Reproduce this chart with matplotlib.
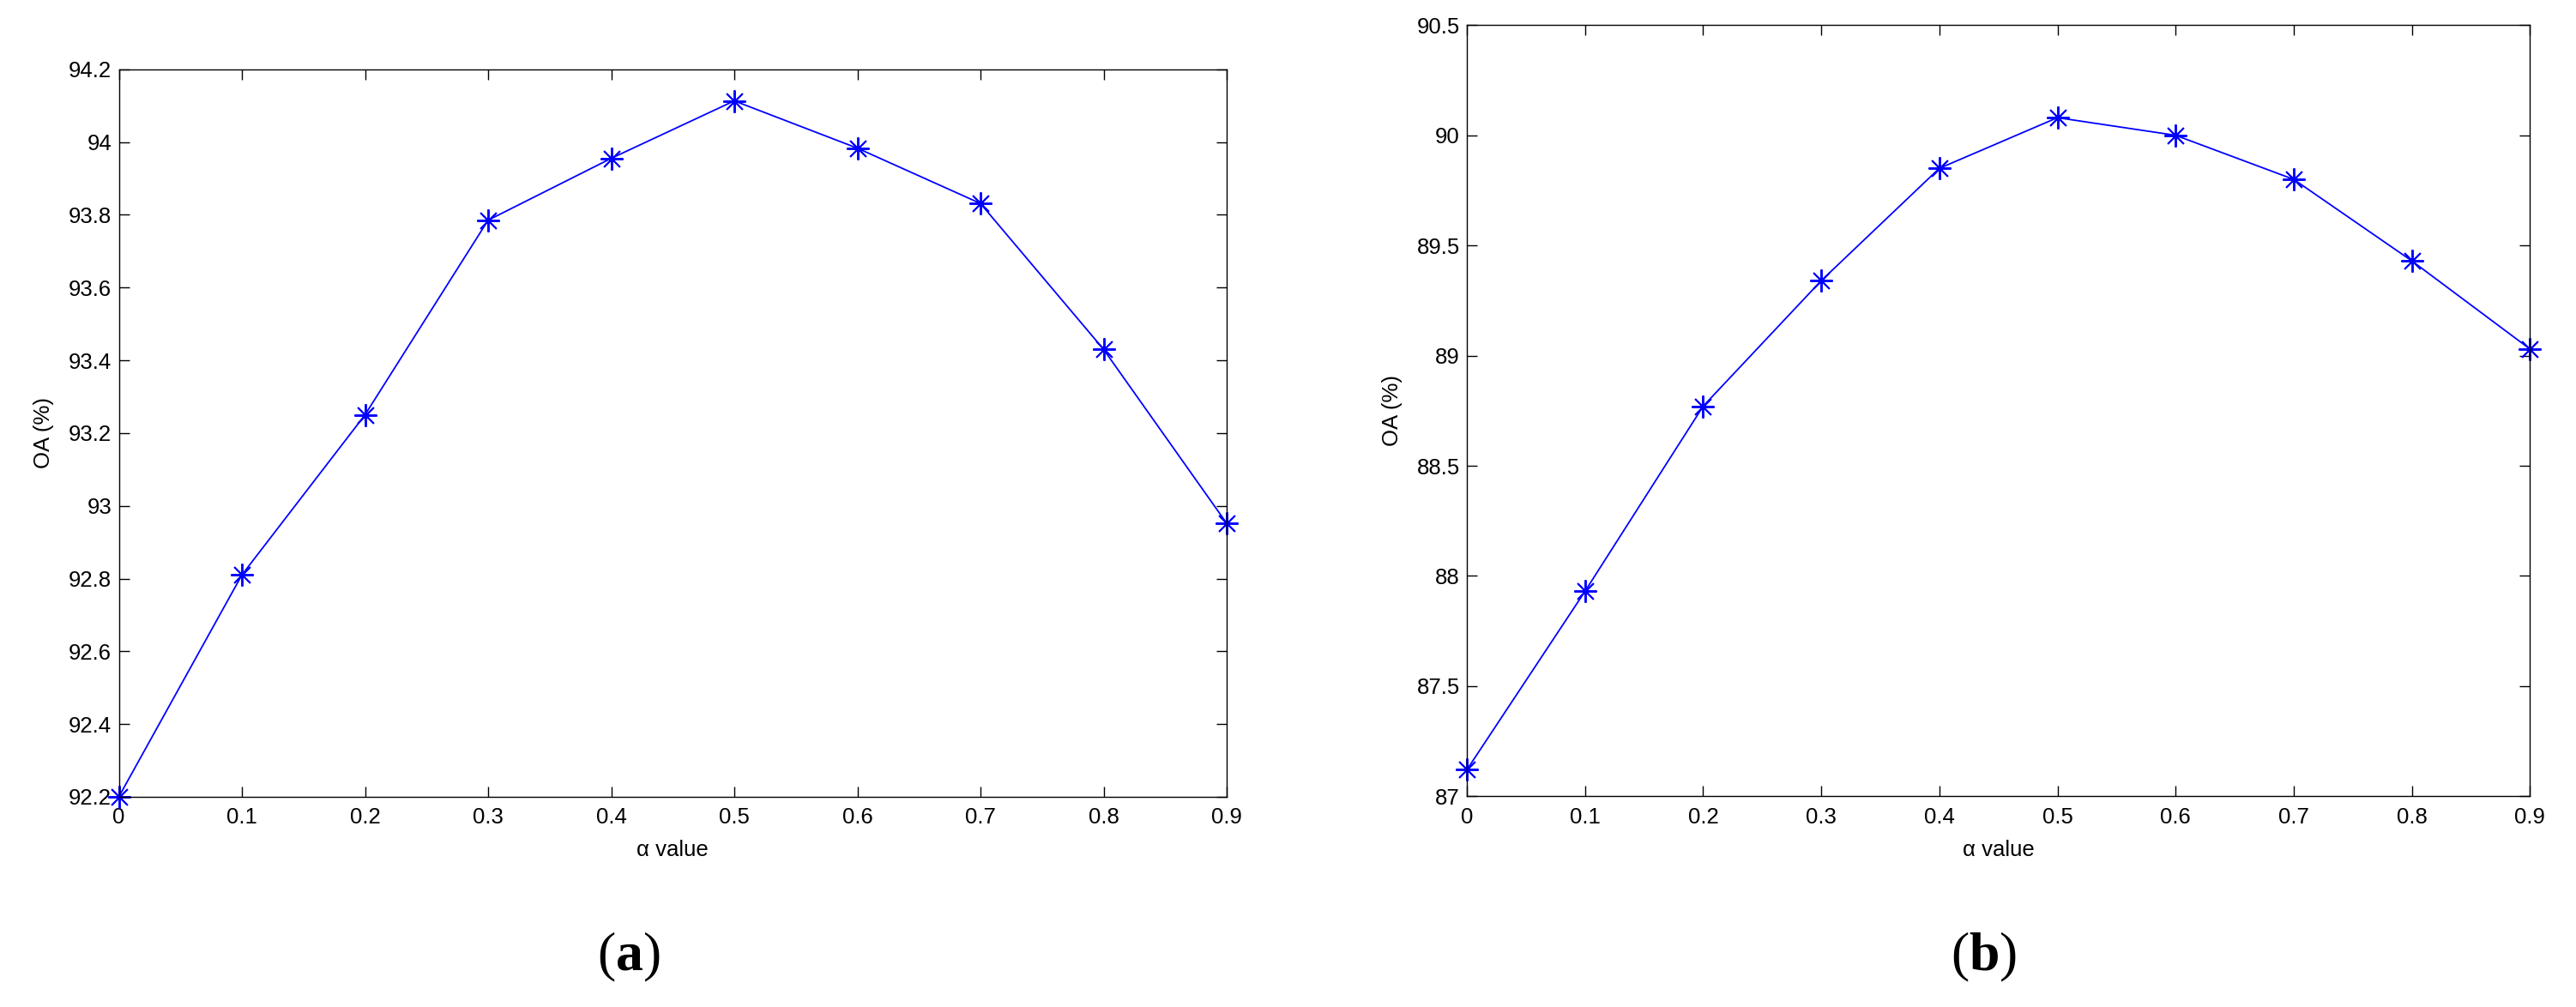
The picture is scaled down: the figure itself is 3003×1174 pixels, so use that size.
import numpy as np
import matplotlib
matplotlib.use("Agg")
import matplotlib.pyplot as plt
from matplotlib.ticker import FuncFormatter

plt.rcParams['font.family'] = ['Liberation Sans', 'DejaVu Sans']
plt.rcParams['mathtext.fontset'] = 'custom'
plt.rcParams['mathtext.rm'] = 'Liberation Serif'
plt.rcParams['mathtext.bf'] = 'Liberation Serif:bold'

alpha = [0, 0.1, 0.2, 0.3, 0.4, 0.5, 0.6, 0.7, 0.8, 0.9]
oa_a = [92.20, 92.81, 93.25, 93.785, 93.955, 94.113, 93.983, 93.831, 93.43, 92.952]
oa_b = [87.12, 87.93, 88.77, 89.34, 89.85, 90.08, 90.00, 89.80, 89.43, 89.03]

yticks_a = [92.2, 92.4, 92.6, 92.8, 93.0, 93.2, 93.4, 93.6, 93.8, 94.0, 94.2]
yticks_b = [87, 87.5, 88, 88.5, 89, 89.5, 90, 90.5]
xticks = alpha
panel_labels = ["a", "b"]

W, H = 3003, 1174
fig = plt.figure(figsize=(W / 100, H / 100), dpi=100)

# axes boxes in pixels: left, top, right, bottom
boxes = [(138.5, 80.7, 1430, 929), (1710, 29.3, 2949.3, 928.3)]
label_x = [733, 2313]
series = [(oa_a, yticks_a), (oa_b, yticks_b)]
fmt = FuncFormatter(lambda v, p: "%g" % round(v, 3))

for (l, t, r, b), (vals, yt), lx, pl in zip(boxes, series, label_x, panel_labels):
    ax = fig.add_axes([l / W, 1 - b / H, (r - l) / W, (b - t) / H])
    ax.plot(alpha, vals, color=(0, 0, 1), linewidth=1.3,
            marker=(8, 2, 0), markersize=19, markeredgewidth=1.4,
            clip_on=False)
    ax.set_xlim(0, 0.9)
    ax.set_ylim(yt[0], yt[-1])
    ax.set_xticks(xticks)
    ax.set_yticks(yt)
    ax.xaxis.set_major_formatter(fmt)
    ax.yaxis.set_major_formatter(fmt)
    ax.tick_params(direction='in', length=8.5, width=1.0, labelsize=18.5,
                   top=True, right=True)
    ax.tick_params(axis='x', pad=9)
    ax.tick_params(axis='y', pad=6)
    for s in ax.spines.values():
        s.set_linewidth(1.0)
    ax.set_xlabel("α value", fontsize=18.5, labelpad=10)
    ax.set_ylabel("OA (%)", fontsize=18.5, labelpad=12)

    fig.text(lx / W, 1 - 1116 / H, r"$\mathrm{(}\mathbf{%s}\mathrm{)}$" % pl,
             fontsize=46, ha='center', va='center')

fig.savefig("out.png", dpi=100)
